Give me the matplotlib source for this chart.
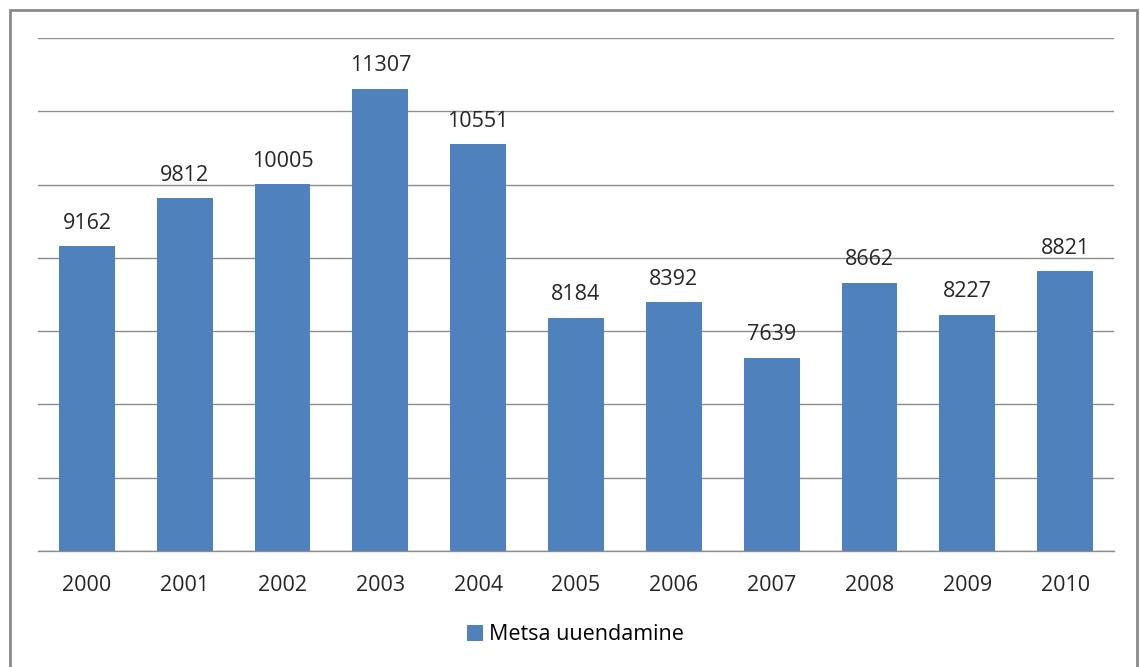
import matplotlib
matplotlib.use("Agg")
import matplotlib.pyplot as plt
from matplotlib.patches import Rectangle

years = ["2000", "2001", "2002", "2003", "2004", "2005", "2006", "2007", "2008", "2009", "2010"]
values = [9162, 9812, 10005, 11307, 10551, 8184, 8392, 7639, 8662, 8227, 8821]
series_name = "Metsa uuendamine"

plt.rcParams['font.family'] = ['Open Sans', 'DejaVu Sans']
fs = 15.5
tc = '#262626'

fig = plt.figure(figsize=(11.4, 6.67), dpi=100)
ax = fig.add_axes([38/1140, 1 - 551/667, (1114-38)/1140, (551-38)/667])

x = list(range(len(years)))
bars = ax.bar(x, values, width=0.57, color='#4F81BD', zorder=3, label=series_name)
for xi, v in zip(x, values):
    ax.text(xi, v + 170, str(v), ha='center', va='bottom', fontsize=fs, color=tc)

ax.set_xlim(-0.5, len(years) - 0.5)
ax.set_ylim(5000, 12000)
ax.set_yticks(range(5000, 12001, 1000))
ax.set_yticklabels([])
ax.tick_params(axis='y', length=0)
ax.tick_params(axis='x', length=0, pad=17, labelsize=fs, labelcolor=tc)
ax.set_xticks(x)
ax.set_xticklabels(years)
ax.yaxis.grid(True, color='#8c8c8c', linewidth=1.0, zorder=0)
for s in ['left', 'right', 'top']:
    ax.spines[s].set_visible(False)
ax.spines['bottom'].set_color('#8c8c8c')
ax.spines['bottom'].set_linewidth(1.0)

fig.legend(handles=[bars], labels=[series_name], loc='center', bbox_to_anchor=(0.505, 1 - 635/667),
           frameon=False, fontsize=fs, handlelength=0.7, handleheight=0.7, handletextpad=0.3)

fig.patches.append(Rectangle((10/1140, -0.01), (1137-10)/1140, 1 - 10/667 + 0.01, transform=fig.transFigure,
                             fill=False, edgecolor='#8a8a8a', linewidth=2))

fig.savefig('out.png', dpi=100)
